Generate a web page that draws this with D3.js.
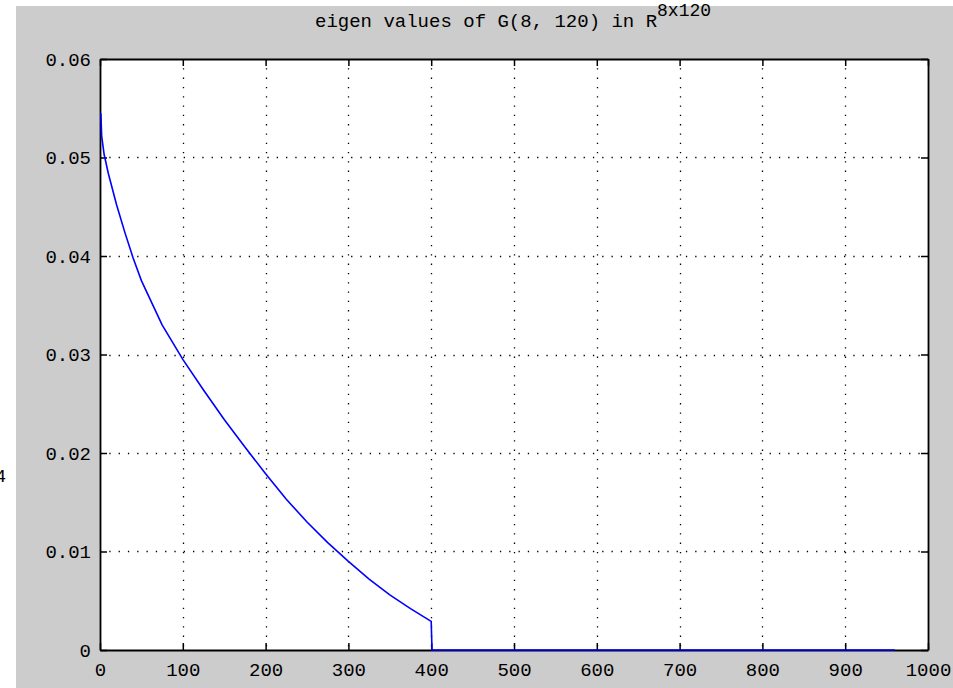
<!DOCTYPE html>
<html>
<head>
<meta charset="utf-8">
<script src="https://cdn.jsdelivr.net/npm/d3@7"></script>
<style>
  body { margin: 0; background: #fff; }
  text { font-family: "Liberation Mono", "DejaVu Sans Mono", monospace; fill: #000; }
</style>
</head>
<body>
<div class="canvas"></div>
<script>
// eigenvalue index / value
const eigIdx = [1, 2, 5, 10, 20, 30, 40, 50, 75, 100, 125, 150, 175, 200, 225, 250, 275, 300, 325, 350, 375, 400, 401, 960];
const eigVal = [0.0545, 0.0522, 0.0503, 0.0484, 0.0452, 0.0424, 0.0398, 0.0375, 0.0330, 0.0295, 0.0264, 0.0234, 0.0206, 0.0179, 0.0153, 0.0130, 0.0109, 0.0090, 0.0072, 0.0056, 0.0042, 0.0029, 0, 0];
const xTicks = [0, 100, 200, 300, 400, 500, 600, 700, 800, 900, 1000];
const yTicks = [0, 0.01, 0.02, 0.03, 0.04, 0.05, 0.06];
const yTickLabels = ['0', '0.01', '0.02', '0.03', '0.04', '0.05', '0.06'];

const width = 953;
const height = 688;
const margin = { top: 59, right: 25, bottom: 38, left: 100 };
const graphWidth = width - margin.left - margin.right;
const graphHeight = height - margin.top - margin.bottom;

const svg = d3.select('.canvas')
  .append('svg')
  .attr('width', width)
  .attr('height', height);

// figure background (gray, with white strip at left/top)
svg.append('rect').attr('x', 0).attr('y', 0).attr('width', width).attr('height', height).attr('fill', '#fff');
svg.append('rect').attr('x', 16).attr('y', 6).attr('width', width - 16).attr('height', height - 6).attr('fill', '#cccccc');

// clipped leftover label at far left
svg.append('text')
  .attr('x', 6).attr('y', 482)
  .attr('text-anchor', 'end')
  .style('font-size', '18px')
  .text('4');

const graph = svg.append('g')
  .attr('transform', `translate(${margin.left}, ${margin.top})`);

const x = d3.scaleLinear().domain([0, 1000]).range([0, graphWidth]);
const y = d3.scaleLinear().domain([0, 0.06]).range([graphHeight, 0]);

graph.append('rect')
  .attr('width', graphWidth)
  .attr('height', graphHeight)
  .attr('fill', '#fff');

// dotted grid
const grid = graph.append('g').attr('class', 'grid');
grid.selectAll('.gx').data(xTicks.slice(1, -1)).enter().append('line')
  .attr('x1', d => Math.round(x(d)) + 0.5).attr('x2', d => Math.round(x(d)) + 0.5)
  .attr('y1', 0).attr('y2', graphHeight)
  .attr('stroke', '#000').attr('stroke-width', 1.3)
  .attr('stroke-dasharray', '1.3 8');
grid.selectAll('.gy').data(yTicks.slice(1, -1)).enter().append('line')
  .attr('y1', d => Math.round(y(d)) + 0.5).attr('y2', d => Math.round(y(d)) + 0.5)
  .attr('x1', 0).attr('x2', graphWidth)
  .attr('stroke', '#000').attr('stroke-width', 1.3)
  .attr('stroke-dasharray', '1.3 8');

// axes (box with inward ticks)
const xAxisBottom = d3.axisBottom(x).tickValues(xTicks).tickSizeInner(-7).tickSizeOuter(0).tickPadding(13).tickFormat(d3.format('d'));
const xAxisTop = d3.axisTop(x).tickValues(xTicks).tickSizeInner(-7).tickSizeOuter(0).tickFormat('');
const yAxisLeft = d3.axisLeft(y).tickValues(yTicks).tickSizeInner(-7).tickSizeOuter(0).tickPadding(9).tickFormat((d, i) => yTickLabels[i]);
const yAxisRight = d3.axisRight(y).tickValues(yTicks).tickSizeInner(-7).tickSizeOuter(0).tickFormat('');

graph.append('g').attr('transform', `translate(0, ${graphHeight})`).call(xAxisBottom);
graph.append('g').call(xAxisTop);
graph.append('g').call(yAxisLeft);
graph.append('g').attr('transform', `translate(${graphWidth}, 0)`).call(yAxisRight);

graph.selectAll('.domain').attr('stroke', '#000').attr('stroke-width', 1.8);
graph.selectAll('.tick line').attr('stroke', '#000').attr('stroke-width', 1.5);
graph.selectAll('.tick text')
  .style('font-family', '"Liberation Mono", "DejaVu Sans Mono", monospace')
  .style('font-size', '19px')
  .attr('fill', '#000');

// data line, drawn over the axes
const points = eigIdx.map((d, i) => ({ idx: d, val: eigVal[i] }));
const line = d3.line().x(d => x(d.idx)).y(d => y(d.val));
graph.append('path')
  .datum(points)
  .attr('fill', 'none')
  .attr('stroke', '#0000ff')
  .attr('stroke-width', 1.6)
  .attr('d', line);

// title with superscript
const title = svg.append('text')
  .attr('x', 315)
  .attr('y', 27)
  .style('font-size', '19px');
title.append('tspan').text('eigen values of G(8, 120) in R');
title.append('tspan')
  .attr('dy', -11)
  .style('font-size', '18px')
  .text('8x120');
</script>
</body>
</html>
